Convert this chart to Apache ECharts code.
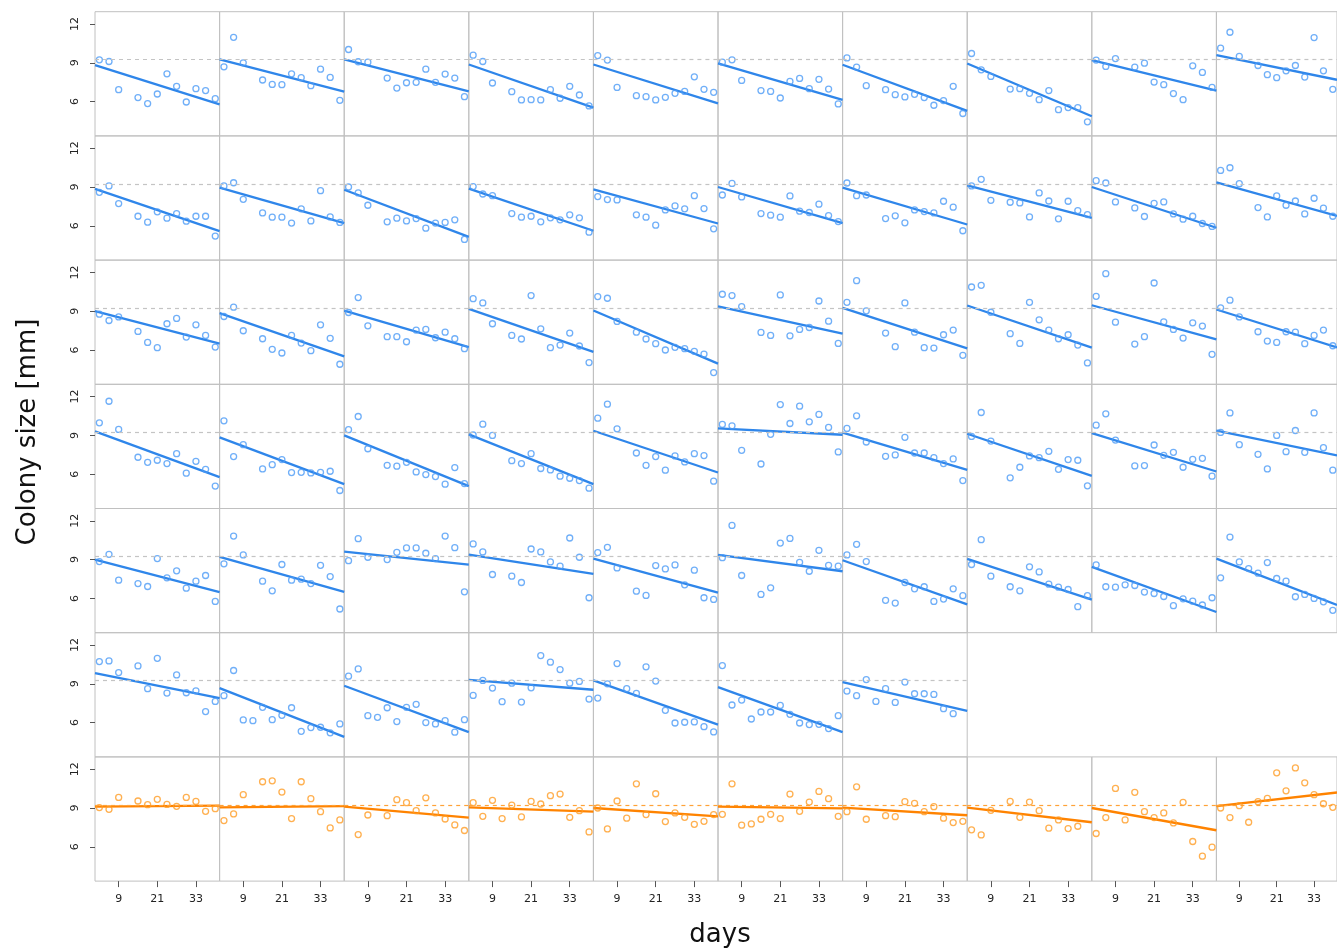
<!DOCTYPE html>
<html>
<head>
<meta charset="utf-8">
<script src="https://cdn.jsdelivr.net/npm/echarts@6/dist/echarts.min.js"></script>
<style>
  html, body { margin: 0; padding: 0; background: #fff; }
  #chart { width: 1337px; height: 951px; }
</style>
</head>
<body>
<div id="chart"></div>
<script>
// measurement days (slot 12 is empty in most panels)
const days = [3, 6, 9, 12, 15, 18, 21, 24, 27, 30, 33, 36, 39];
const xTicks = [9, 21, 33];
const yTicks = [6, 9, 12];
const refSize = 9.25;

// colony size per panel, one list of panels per facet row
const row1 = [
  [9.23, 9.10, 6.92, null, 6.31, 5.85, 6.59, 8.15, 7.18, 5.97, 7.00, 6.85, 6.23],
  [8.69, 10.97, 9.00, null, 7.67, 7.33, 7.31, 8.15, 7.85, 7.23, 8.51, 7.87, 6.10],
  [10.03, 9.08, 9.05, null, 7.82, 7.05, 7.46, 7.49, 8.51, 7.49, 8.13, 7.82, 6.38],
  [9.59, 9.10, 7.44, null, 6.77, 6.13, 6.15, 6.13, 6.92, 6.26, 7.18, 6.51, 5.67],
  [9.56, 9.21, 7.10, null, 6.46, 6.38, 6.13, 6.33, 6.64, 6.79, 7.92, 6.95, 6.72],
  [9.05, 9.23, 7.64, null, 6.85, 6.79, 6.28, 7.56, 7.79, 7.00, 7.72, 6.97, 5.82],
  [9.38, 8.67, 7.23, null, 6.92, 6.54, 6.36, 6.56, 6.31, 5.72, 6.08, 7.18, 5.08],
  [9.72, 8.46, 7.95, null, 6.97, 7.00, 6.64, 6.15, 6.85, 5.38, 5.54, 5.54, 4.44],
  [9.21, 8.72, 9.33, null, 8.67, 8.97, 7.51, 7.31, 6.62, 6.15, 8.77, 8.26, 7.10],
  [10.13, 11.36, 9.49, null, 8.79, 8.08, 7.85, 8.38, 8.79, 7.90, 10.95, 8.38, 6.95]
];
const row2 = [
  [8.59, 9.08, 7.72, null, 6.74, 6.28, 7.08, 6.59, 6.95, 6.36, 6.74, 6.74, 5.21],
  [9.08, 9.33, 8.05, null, 7.00, 6.67, 6.67, 6.21, 7.31, 6.38, 8.72, 6.69, 6.26],
  [9.00, 8.54, 7.59, null, 6.31, 6.59, 6.38, 6.56, 5.82, 6.21, 6.26, 6.46, 4.95],
  [9.03, 8.46, 8.33, null, 6.95, 6.67, 6.74, 6.31, 6.62, 6.46, 6.85, 6.62, 5.51],
  [8.26, 8.03, 8.00, null, 6.85, 6.67, 6.05, 7.23, 7.54, 7.31, 8.33, 7.33, 5.77],
  [8.38, 9.28, 8.23, null, 6.95, 6.82, 6.67, 8.31, 7.13, 7.03, 7.67, 6.79, 6.33],
  [9.31, 8.33, 8.38, null, 6.56, 6.77, 6.23, 7.23, 7.10, 7.00, 7.90, 7.44, 5.62],
  [9.08, 9.59, 7.97, null, 7.82, 7.77, 6.69, 8.54, 7.92, 6.54, 7.90, 7.18, 6.87],
  [9.49, 9.31, 7.85, null, 7.38, 6.72, 7.74, 7.85, 6.92, 6.51, 6.74, 6.18, 5.95],
  [10.28, 10.49, 9.26, null, 7.41, 6.69, 8.31, 7.59, 7.92, 6.92, 8.13, 7.36, 6.74]
];
const row3 = [
  [8.77, 8.28, 8.56, null, 7.44, 6.59, 6.18, 8.03, 8.44, 7.00, 7.95, 7.13, 6.23],
  [8.59, 9.31, 7.49, null, 6.87, 6.05, 5.77, 7.13, 6.54, 5.95, 7.95, 6.90, 4.90],
  [8.90, 10.05, 7.87, null, 7.03, 7.03, 6.64, 7.54, 7.59, 6.95, 7.38, 6.87, 6.10],
  [9.97, 9.64, 8.03, null, 7.13, 6.85, 10.21, 7.64, 6.18, 6.38, 7.31, 6.31, 5.03],
  [10.13, 10.00, 8.21, null, 7.38, 6.85, 6.49, 6.00, 6.21, 6.10, 5.90, 5.69, 4.26],
  [10.31, 10.21, 9.36, null, 7.36, 7.13, 10.26, 7.10, 7.59, 7.74, 9.79, 8.23, 6.51],
  [9.69, 11.36, 9.03, null, 7.31, 6.26, 9.64, 7.38, 6.18, 6.15, 7.18, 7.54, 5.59],
  [10.87, 11.00, 8.92, null, 7.26, 6.51, 9.69, 8.33, 7.54, 6.87, 7.18, 6.38, 5.00],
  [10.15, 11.90, 8.15, null, 6.46, 7.03, 11.18, 8.18, 7.59, 6.92, 8.10, 7.85, 5.67],
  [9.26, 9.85, 8.56, null, 7.41, 6.69, 6.59, 7.41, 7.38, 6.49, 7.13, 7.54, 6.33]
];
const row4 = [
  [9.97, 11.64, 9.46, null, 7.31, 6.92, 7.08, 6.82, 7.59, 6.08, 7.00, 6.38, 5.08],
  [10.13, 7.36, 8.28, null, 6.41, 6.74, 7.13, 6.13, 6.15, 6.10, 6.15, 6.23, 4.74],
  [9.44, 10.46, 7.97, null, 6.69, 6.62, 6.92, 6.18, 5.97, 5.82, 5.23, 6.51, 5.28],
  [9.03, 9.87, 9.00, null, 7.05, 6.82, 7.59, 6.44, 6.33, 5.85, 5.69, 5.51, 4.92],
  [10.33, 11.41, 9.51, null, 7.64, 6.69, 7.36, 6.31, 7.41, 6.95, 7.59, 7.44, 5.46],
  [9.85, 9.74, 7.85, null, 6.79, 9.08, 11.38, 9.92, 11.26, 10.05, 10.62, 9.62, 7.72],
  [9.54, 10.51, 8.49, null, 7.38, 7.49, 8.85, 7.64, 7.64, 7.28, 6.82, 7.18, 5.51],
  [8.92, 10.77, 8.56, null, 5.72, 6.54, 7.41, 7.28, 7.77, 6.38, 7.13, 7.08, 5.10],
  [9.79, 10.67, 8.64, null, 6.64, 6.67, 8.26, 7.46, 7.69, 6.54, 7.15, 7.23, 5.85],
  [9.23, 10.74, 8.28, null, 7.54, 6.41, 9.00, 7.74, 9.38, 7.69, 10.74, 8.05, 6.31]
];
const row5 = [
  [8.85, 9.41, 7.41, null, 7.15, 6.92, 9.08, 7.59, 8.13, 6.79, 7.33, 7.77, 5.77],
  [8.67, 10.82, 9.36, null, 7.33, 6.59, 8.62, 7.41, 7.49, 7.15, 8.56, 7.69, 5.18],
  [8.92, 10.62, 9.18, null, 9.00, 9.56, 9.90, 9.90, 9.49, 9.08, 10.82, 9.92, 6.51],
  [10.21, 9.59, 7.85, null, 7.72, 7.23, 9.82, 9.59, 8.82, 8.49, 10.67, 9.18, 6.05],
  [9.54, 9.95, 8.36, null, 6.56, 6.23, 8.54, 8.28, 8.59, 7.05, 8.18, 6.05, 5.92],
  [9.15, 11.64, 7.77, null, 6.31, 6.82, 10.28, 10.64, 8.79, 8.10, 9.72, 8.56, 8.49],
  [9.36, 10.18, 8.85, null, 5.85, 5.64, 7.23, 6.74, 6.90, 5.77, 5.95, 6.74, 6.21],
  [8.62, 10.54, 7.72, null, 6.90, 6.59, 8.44, 8.05, 7.10, 6.87, 6.69, 5.36, 6.21],
  [8.59, 6.90, 6.87, 7.05, 7.00, 6.49, 6.38, 6.15, 5.44, 5.97, 5.79, 5.49, 6.05],
  [7.59, 10.74, 8.82, 8.31, 7.95, 8.77, 7.54, 7.33, 6.13, 6.31, 6.00, 5.74, 5.08]
];
const row6 = [
  [10.72, 10.77, 9.87, null, 10.38, 8.62, 10.97, 8.28, 9.69, 8.31, 8.46, 6.85, 7.64],
  [8.08, 10.03, 6.21, 6.15, 7.18, 6.23, 6.56, 7.15, 5.33, 5.62, 5.64, 5.21, 5.90],
  [9.59, 10.15, 6.54, 6.41, 7.15, 6.08, 7.18, 7.41, 6.00, 5.90, 6.15, 5.26, 6.23],
  [8.10, 9.26, 8.67, 7.62, 9.05, 7.59, 8.69, 11.18, 10.67, 10.10, 9.05, 9.18, 7.82],
  [7.90, 9.00, 10.56, 8.62, 8.26, 10.31, 9.21, 6.95, 5.97, 6.03, 6.05, 5.69, 5.28],
  [10.41, 7.36, 7.74, 6.28, 6.82, 6.82, 7.33, 6.64, 5.97, 5.85, 5.87, 5.54, 6.54],
  [8.44, 8.08, 9.33, 7.64, 8.62, 7.56, 9.13, 8.23, 8.23, 8.18, 7.08, 6.69, null]
];
// control colonies (orange)
const row7 = [
  [9.03, 8.90, 9.82, null, 9.54, 9.26, 9.67, 9.28, 9.13, 9.82, 9.51, 8.74, 8.95],
  [8.03, 8.54, 10.03, null, 11.03, 11.10, 10.23, 8.18, 11.03, 9.72, 8.72, 7.46, 8.08],
  [null, 6.95, 8.46, null, 8.41, 9.64, 9.41, 8.79, 9.79, 8.62, 8.15, 7.69, 7.26],
  [9.41, 8.36, 9.59, 8.18, 9.23, 8.31, 9.51, 9.31, 9.95, 10.08, 8.28, 8.79, 7.15],
  [9.00, 7.38, 9.54, 8.21, 10.87, 8.49, 10.10, 7.95, 8.62, 8.28, 7.74, 7.97, 8.49],
  [8.51, 10.87, 7.67, 7.77, 8.13, 8.51, 8.18, 10.08, 8.74, 9.46, 10.28, 9.72, 8.36],
  [8.72, 10.64, 8.13, null, 8.41, 8.33, 9.49, 9.36, 8.72, 9.10, 8.21, 7.87, 7.97],
  [7.31, 6.92, 8.82, null, 9.51, 8.28, 9.46, 8.79, 7.44, 8.08, 7.41, 7.59, null],
  [7.03, 8.26, 10.51, 8.08, 10.21, 8.72, 8.26, 8.62, 7.85, 9.44, 6.41, 5.28, 5.97],
  [9.00, 8.26, 9.18, 7.90, 9.49, 9.74, 11.72, 10.33, 12.10, 10.95, 10.03, 9.33, 9.05]
];

// fitted line, value at the left and right edge of each panel
const fit1 = [[8.82, 5.79], [9.26, 6.77], [9.26, 6.79], [8.87, 5.54], [8.87, 5.87], [8.95, 6.13], [8.85, 5.28], [8.95, 4.87], [9.21, 6.85], [9.59, 7.69]];
const fit2 = [[8.85, 5.59], [8.95, 6.21], [8.79, 5.15], [8.87, 5.62], [8.82, 6.18], [9.00, 6.21], [8.95, 6.10], [9.13, 6.62], [9.00, 5.85], [9.36, 6.77]];
const fit3 = [[9.00, 6.49], [8.85, 5.51], [9.05, 6.23], [9.18, 5.85], [9.05, 4.95], [9.38, 7.26], [9.26, 6.13], [9.44, 6.18], [9.46, 6.82], [9.13, 6.20]];
const fit4 = [[9.31, 5.77], [8.85, 5.23], [9.00, 5.08], [9.08, 5.23], [9.36, 6.13], [9.54, 9.05], [9.21, 6.33], [9.13, 5.87], [9.18, 6.21], [9.36, 7.45]];
const fit5 = [[9.00, 6.49], [9.21, 6.51], [9.62, 8.62], [9.38, 7.90], [9.08, 6.44], [9.36, 8.10], [8.95, 5.54], [9.05, 5.90], [8.44, 4.95], [9.08, 5.50]];
const fit6 = [[9.82, 7.90], [8.67, 4.90], [8.85, 5.26], [9.31, 8.54], [9.26, 5.85], [8.74, 5.26], [9.13, 6.90]];
const fit7 = [[9.10, 9.18], [9.05, 9.15], [9.10, 8.26], [9.05, 8.72], [9.00, 8.36], [9.10, 8.97], [9.03, 8.44], [9.03, 7.90], [9.00, 7.28], [9.15, 10.20]];

const rows = [row1, row2, row3, row4, row5, row6, row7];
const fits = [fit1, fit2, fit3, fit4, fit5, fit6, fit7];

const X_MIN = 1.65, X_MAX = 40.35;
const Y_MIN = 3.35, Y_MAX = 12.95;
const PANEL_W = 124.6, PANEL_H = 124.2;
const LEFT0 = 95, TOP0 = 11.7;

const BLUE = { point: "#4c9bf6", line: "#2f86ea", ref: "#c4c4c4" };
const ORANGE = { point: "#ff9c24", line: "#ff8300", ref: "#ffa238" };
const FONT = "DejaVu Sans";

const chart = echarts.init(document.getElementById("chart"), null, { renderer: "canvas" });

const grid = [], xAxis = [], yAxis = [], series = [];
const rowStart = [];
const lastRow = rows.length - 1;

rows.forEach((row, r) => {
  rowStart.push(grid.length);
  row.forEach((vals, c) => {
    const i = grid.length;
    const pal = r === lastRow ? ORANGE : BLUE;
    grid.push({
      left: LEFT0 + c * PANEL_W,
      top: TOP0 + r * PANEL_H,
      width: PANEL_W,
      height: PANEL_H,
      show: true,
      borderColor: "#c0c0c0",
      borderWidth: 1,
      backgroundColor: "transparent",
    });
    xAxis.push({
      gridIndex: i,
      type: "value",
      min: X_MIN,
      max: X_MAX,
      axisLine: { show: false },
      splitLine: { show: false },
      axisTick: { show: r === lastRow, customValues: xTicks, length: 6, lineStyle: { color: "#555" } },
      axisLabel: { show: r === lastRow, customValues: xTicks, margin: 13, color: "#222", fontSize: 11, fontFamily: FONT },
    });
    yAxis.push({
      gridIndex: i,
      type: "value",
      min: Y_MIN,
      max: Y_MAX,
      axisLine: { show: false },
      splitLine: { show: false },
      axisTick: { show: c === 0, customValues: yTicks, length: 5, lineStyle: { color: "#555" } },
      axisLabel: { show: false },
    });
    const pts = [];
    days.forEach((d, k) => { if (vals[k] != null) pts.push([d, vals[k]]); });
    const fit = fits[r][c];
    series.push({
      type: "line",
      xAxisIndex: i,
      yAxisIndex: i,
      data: [[X_MIN, fit[0]], [X_MAX, fit[1]]],
      showSymbol: false,
      silent: true,
      z: 3,
      lineStyle: { color: pal.line, width: 2.3 },
      markLine: {
        silent: true,
        symbol: "none",
        label: { show: false },
        lineStyle: { color: pal.ref, width: 1.2, type: [4, 4] },
        data: [{ yAxis: refSize }],
      },
    });
    series.push({
      type: "scatter",
      xAxisIndex: i,
      yAxisIndex: i,
      data: pts,
      symbol: "circle",
      symbolSize: 6,
      z: 4,
      itemStyle: { color: "rgba(0,0,0,0)", borderColor: pal.point, borderWidth: 1.3 },
    });
  });
});

const titles = [
  {
    type: "text",
    x: 28,
    y: 432,
    rotation: Math.PI / 2,
    style: { text: "Colony size [mm]", font: `26px "${FONT}"`, fill: "#111", align: "center", verticalAlign: "middle" },
  },
  {
    type: "text",
    x: 720,
    y: 935,
    style: { text: "days", font: `26px "${FONT}"`, fill: "#111", align: "center", verticalAlign: "middle" },
  },
];

chart.setOption({
  backgroundColor: "#fff",
  animation: false,
  grid,
  xAxis,
  yAxis,
  series,
  graphic: titles,
});

// rotated y tick labels, placed through each row's first y axis
const yLabels = [];
rowStart.forEach((i) => {
  yTicks.forEach((v) => {
    const y = chart.convertToPixel({ yAxisIndex: i }, v);
    yLabels.push({
      type: "text",
      x: LEFT0 - 20,
      y: y,
      rotation: Math.PI / 2,
      style: { text: String(v), font: `11px "${FONT}"`, fill: "#222", align: "center", verticalAlign: "middle" },
    });
  });
});
chart.setOption({ graphic: titles.concat(yLabels) });
</script>
</body>
</html>
